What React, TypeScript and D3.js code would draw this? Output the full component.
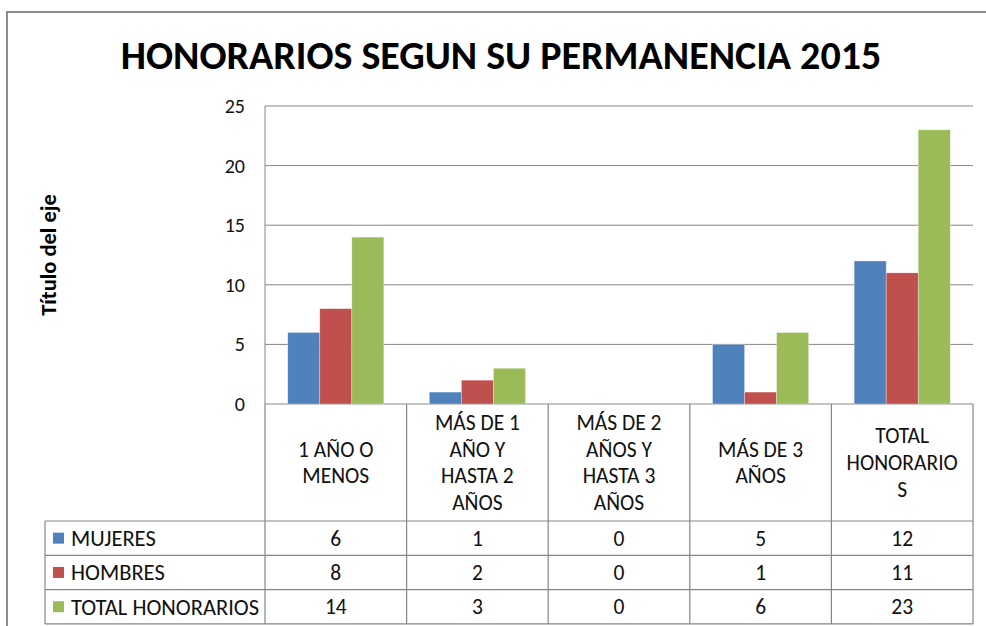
import React from "react";
import { scaleBand, scaleLinear } from "d3";

// categories (rows of the data table header), split into lines as shown
const categories = [
  "1 AÑO O MENOS",
  "MÁS DE 1 AÑO Y HASTA 2 AÑOS",
  "MÁS DE 2 AÑOS Y HASTA 3 AÑOS",
  "MÁS DE 3 AÑOS",
  "TOTAL HONORARIOS",
];
const categoryLines = [
  ["1 AÑO O", "MENOS"],
  ["MÁS DE 1", "AÑO Y", "HASTA 2", "AÑOS"],
  ["MÁS DE 2", "AÑOS Y", "HASTA 3", "AÑOS"],
  ["MÁS DE 3", "AÑOS"],
  ["TOTAL", "HONORARIO", "S"],
];

const seriesNames = ["MUJERES", "HOMBRES", "TOTAL HONORARIOS"];
const mujeres = [6, 1, 0, 5, 12];
const hombres = [8, 2, 0, 1, 11];
const totalHonorarios = [14, 3, 0, 6, 23];
const yTicks = [0, 5, 10, 15, 20, 25];

const seriesValues = [mujeres, hombres, totalHonorarios];
const colors = ["#4F81BD", "#C0504D", "#9BBB59"];

const W = 986;
const H = 626;
const FONT = "Carlito, Calibri, Lato, 'Open Sans', sans-serif";

export default function App() {
  const plot = { left: 265, right: 973, top: 106, bottom: 404 };
  const tableLeft = 45;
  const headerBottom = 521;
  const rowH = 34.3;

  const x = scaleBand<string>()
    .domain(categories)
    .range([plot.left, plot.right])
    .padding(0);
  const xInner = scaleBand<string>()
    .domain(seriesNames)
    .range([0, x.bandwidth()])
    .paddingInner(0)
    .paddingOuter(0.71);
  const y = scaleLinear().domain([0, 25]).range([plot.bottom, plot.top]);

  const grid = "#868686";
  const lineH = 26.6;
  const fs = 21.5;
  const ink = "#111";

  return (
    <svg
      width={W}
      height={H}
      style={{ position: "absolute", left: 0, top: 0, display: "block", background: "#fff" }}
      fontFamily={FONT}
    >
      <rect x={7} y={12} width={1200} height={800} fill="#fff" stroke="#8c8c8c" strokeWidth={2} />

      <text x={501} y={69} textAnchor="middle" fontSize={40} fontWeight="bold" fill="#000">
        HONORARIOS SEGUN SU PERMANENCIA 2015
      </text>

      {/* gridlines + y ticks */}
      {yTicks.map((t) => (
        <g key={t}>
          <line x1={plot.left} x2={plot.right} y1={y(t)} y2={y(t)} stroke={grid} strokeWidth={1} />
          <text x={245} y={y(t)} dy="0.35em" textAnchor="end" fontSize={20} fill={ink}>
            {t}
          </text>
        </g>
      ))}
      <line x1={plot.left} x2={plot.left} y1={plot.top} y2={plot.bottom} stroke={grid} />

      <text
        transform={`translate(56,${(plot.top + plot.bottom) / 2}) rotate(-90)`}
        textAnchor="middle"
        fontSize={22.5}
        fontWeight="bold"
        fill="#000"
      >
        Título del eje
      </text>

      {/* bars */}
      {categories.map((c, ci) => (
        <g key={c} transform={`translate(${x(c)},0)`}>
          {seriesNames.map((s, si) => {
            const v = seriesValues[si][ci];
            if (v === 0) return null;
            return (
              <rect
                key={s}
                x={xInner(s)}
                y={y(v)}
                width={xInner.bandwidth()}
                height={y(0) - y(v)}
                fill={colors[si]}
                stroke="#ffffff"
                strokeOpacity={0.5}
                strokeWidth={0.6}
              />
            );
          })}
        </g>
      ))}

      {/* data table */}
      <g stroke={grid} strokeWidth={1.2} fill="none">
        {categories.map((c) => (
          <line key={c} x1={x(c)} x2={x(c)} y1={plot.bottom} y2={headerBottom + 3 * rowH} />
        ))}
        <line x1={plot.right} x2={plot.right} y1={plot.bottom} y2={headerBottom + 3 * rowH} />
        <line x1={tableLeft} x2={tableLeft} y1={headerBottom} y2={headerBottom + 3 * rowH} />
        {[0, 1, 2, 3].map((r) => (
          <line
            key={r}
            x1={tableLeft}
            x2={plot.right}
            y1={headerBottom + r * rowH}
            y2={headerBottom + r * rowH}
          />
        ))}
      </g>

      {categories.map((c, ci) => {
        const lines = categoryLines[ci];
        const cy = (plot.bottom + headerBottom) / 2;
        const cx = (x(c) as number) + x.bandwidth() / 2;
        return (
          <text key={c} textAnchor="middle" fontSize={fs} fill={ink}>
            {lines.map((l, li) => (
              <tspan key={li} x={cx} y={cy + (li - (lines.length - 1) / 2) * lineH} dy="0.35em">
                {l}
              </tspan>
            ))}
          </text>
        );
      })}

      {seriesNames.map((s, si) => {
        const cy = headerBottom + si * rowH + rowH / 2;
        return (
          <g key={s}>
            <rect x={53} y={cy - 5.5} width={11} height={11} fill={colors[si]} />
            <text x={71} y={cy} dy="0.35em" fontSize={22.5} fill={ink}>
              {s}
            </text>
            {categories.map((c, ci) => (
              <text
                key={c}
                x={(x(c) as number) + x.bandwidth() / 2}
                y={cy}
                dy="0.35em"
                textAnchor="middle"
                fontSize={fs}
                fill={ink}
              >
                {seriesValues[si][ci]}
              </text>
            ))}
          </g>
        );
      })}
    </svg>
  );
}
